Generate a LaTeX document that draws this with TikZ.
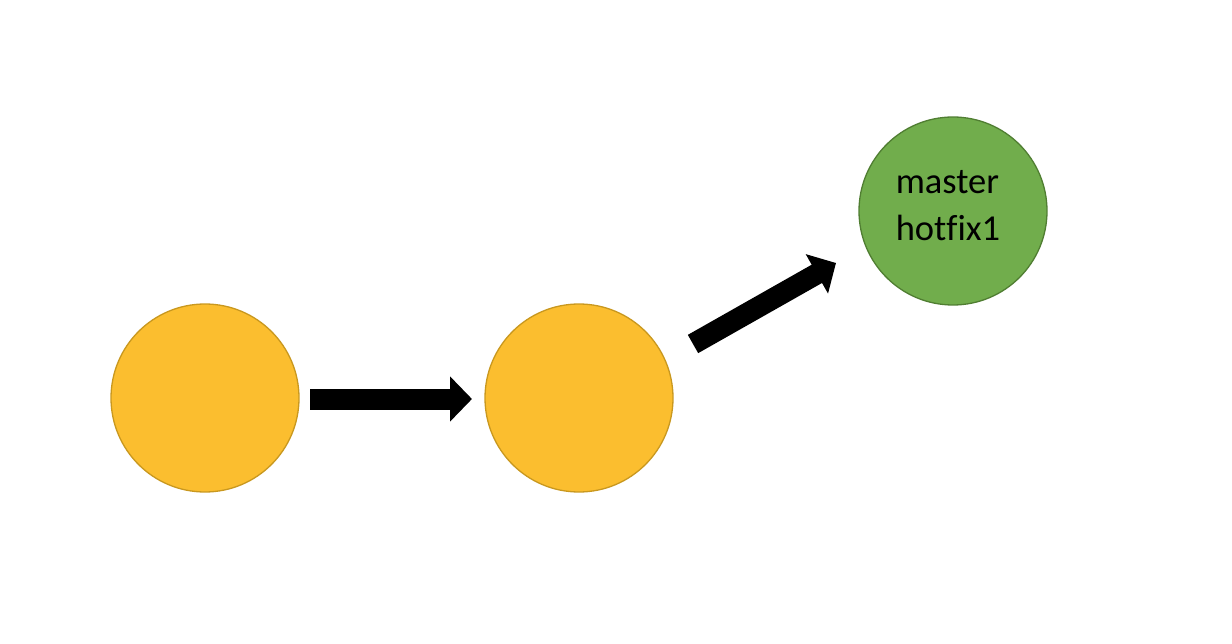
\documentclass[tikz,border=0pt]{standalone}
\usepackage{fontspec}
\setmainfont{Carlito}[Ligatures={NoCommon,NoRare}]
\usetikzlibrary{arrows.meta}
\definecolor{gold}{HTML}{FBBE2F}
\definecolor{goldline}{HTML}{C9981F}
\definecolor{leaf}{HTML}{71AD4C}
\definecolor{leafline}{HTML}{507E32}
\tikzset{
  commit/.style={circle, minimum size=188pt, inner sep=0pt, line width=1.3pt},
  oldcommit/.style={commit, fill=gold, draw=goldline},
  headcommit/.style={commit, fill=leaf, draw=leafline},
  bigarrow/.style={line width=21pt, -{Triangle[length=22pt,width=44pt]}}
}
\begin{document}
\begin{tikzpicture}[x=1pt,y=-1pt]
\useasboundingbox (0,0) rectangle (1232,644);
\node[oldcommit] (c1) at (205,398) {};
\node[oldcommit] (c2) at (579,398) {};
\node[headcommit] (c3) at (953,211) {};
\node[font=\fontsize{36.5}{47}\selectfont, align=left, anchor=center] (lbl) at (948,206) {master\\hotfix1};
\coordinate (t1) at (310,399);
\coordinate (h1) at (472,399);
\coordinate (t2) at (693,344);
\coordinate (h2) at (836,263);
\draw[bigarrow] (t1) -- (h1);
\draw[bigarrow] (t2) -- (h2);
\end{tikzpicture}
\end{document}
